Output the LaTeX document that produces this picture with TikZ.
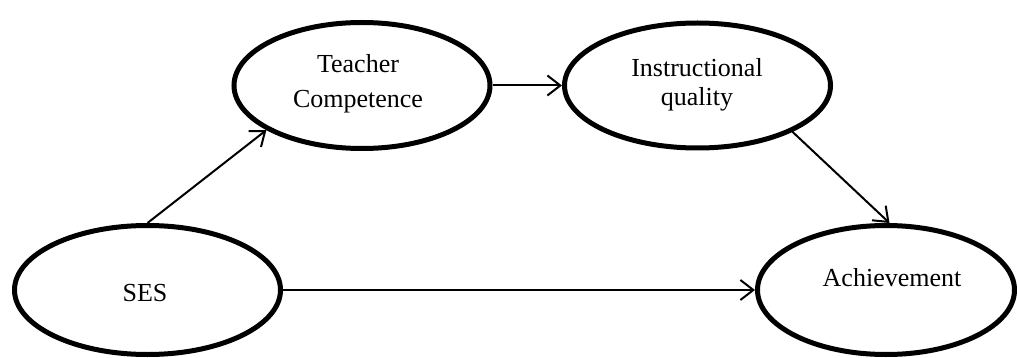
\documentclass[tikz,border=0pt]{standalone}
\usepackage{fontspec}
\setmainfont{Liberation Serif}
\usetikzlibrary{shapes.geometric,arrows.meta}
\tikzset{
  latent/.style={ellipse, draw, line width=5pt, inner sep=0pt, fill=white},
  lbl/.style={anchor=base, inner sep=0pt, font=\fontsize{26}{30}\selectfont},
  path/.style={line width=2pt, -{Straight Barb[length=13pt,width=20pt,line width=2pt]}}
}
\begin{document}
\begin{tikzpicture}[x=1pt,y=-1pt]
\useasboundingbox (0,0) rectangle (1017,358);
\node[latent, minimum width=256pt, minimum height=126pt] (tc) at (362,85.5) {};
\node[latent, minimum width=266pt, minimum height=125pt] (iq) at (697.5,85.5) {};
\node[latent, minimum width=266pt, minimum height=129pt] (ses) at (147.5,290) {};
\node[latent, minimum width=257pt, minimum height=129pt] (ach) at (886,290) {};
\node[lbl] (tc1) at (358,73) {Teacher};
\node[lbl] (tc2) at (358,108) {Competence};
\node[lbl] (iq1) at (697,77) {Instructional};
\node[lbl] (iq2) at (697,106) {quality};
\node[lbl] (sesl) at (145,301) {SES};
\node[lbl] (achl) at (892,286) {Achievement};
\draw[path] (ses.north) -- (tc.205);
\draw[path] (tc.east) -- (iq.west);
\draw[path] (iq.334) -- (ach.87);
\draw[path] (ses.east) -- (ach.west);
\end{tikzpicture}
\end{document}
